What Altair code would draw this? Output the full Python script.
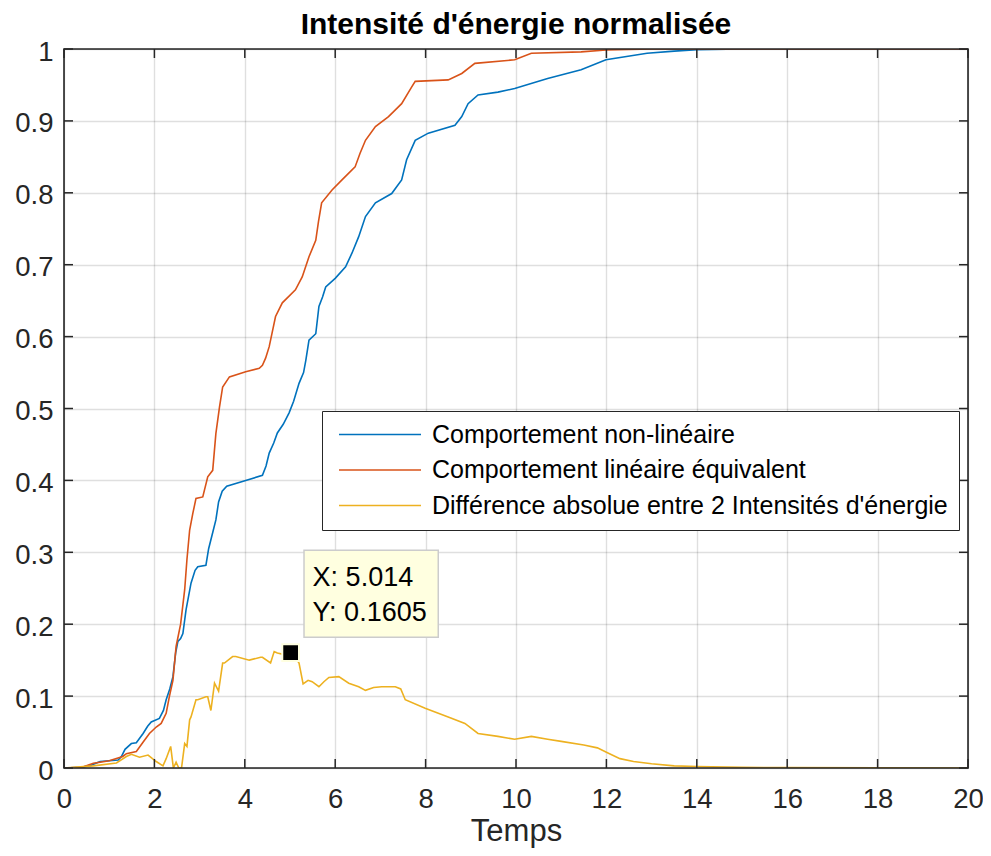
import altair as alt
import pandas as pd

FONT = "Liberation Sans"
TXT = "#262626"

labels = ["Comportement non-linéaire",
          "Comportement linéaire équivalent",
          "Différence absolue entre 2 Intensités d'énergie"]
colors = ["#0072BD", "#D95319", "#EDB120"]

# Comportement non-linéaire
nl_x = [0, 0.4, 0.6, 0.8, 1.0, 1.2, 1.27, 1.35, 1.49, 1.6, 1.75, 1.85, 1.93, 2.11, 2.2, 2.26, 2.34,
        2.41, 2.47, 2.52, 2.58, 2.63, 2.7, 2.81, 2.9, 2.96, 3.14, 3.2, 3.3, 3.36, 3.42, 3.5, 3.6,
        4.02, 4.39, 4.47, 4.54, 4.64, 4.72, 4.85, 4.98, 5.08, 5.2, 5.3, 5.35, 5.42, 5.57, 5.64,
        5.72, 5.79, 6.0, 6.23, 6.37, 6.52, 6.67, 6.89, 7.25, 7.47, 7.58, 7.77, 8.06, 8.65, 8.8,
        8.94, 9.16, 9.6, 9.97, 10.7, 11.44, 11.99, 12.9, 13.5, 14.0, 15.0, 20.0]
nl_y = [0, 0.001, 0.004, 0.009, 0.010, 0.011, 0.016, 0.026, 0.034, 0.035, 0.048, 0.058, 0.064, 0.069,
        0.08, 0.095, 0.11, 0.127, 0.16, 0.176, 0.18, 0.187, 0.22, 0.257, 0.275, 0.28, 0.282, 0.305,
        0.33, 0.345, 0.37, 0.385, 0.392, 0.40, 0.407, 0.42, 0.438, 0.452, 0.466, 0.478, 0.494, 0.51,
        0.535, 0.55, 0.567, 0.595, 0.604, 0.642, 0.655, 0.669, 0.681, 0.697, 0.716, 0.739, 0.767,
        0.786, 0.799, 0.818, 0.846, 0.873, 0.883, 0.894, 0.906, 0.924, 0.936, 0.94, 0.945, 0.959,
        0.971, 0.985, 0.994, 0.997, 0.999, 1.0, 1.0]

# Comportement linéaire équivalent
li_x = [0, 0.4, 0.65, 1.0, 1.3, 1.38, 1.6, 1.74, 1.89, 2.04, 2.15, 2.26, 2.33, 2.41, 2.48, 2.58,
        2.67, 2.72, 2.78, 2.85, 2.92, 3.07, 3.18, 3.29, 3.36, 3.44, 3.51, 3.66, 4.02, 4.32, 4.39,
        4.46, 4.54, 4.68, 4.83, 5.12, 5.27, 5.42, 5.57, 5.63, 5.7, 5.93, 6.15, 6.44, 6.55, 6.67,
        6.89, 7.18, 7.47, 7.69, 7.77, 8.5, 8.8, 9.09, 9.97, 10.34, 11.44, 11.99, 13.0, 20.0]
li_y = [0, 0.001, 0.0065, 0.01, 0.016, 0.02, 0.023, 0.035, 0.048, 0.057, 0.062, 0.076, 0.099, 0.122,
        0.169, 0.2, 0.248, 0.29, 0.331, 0.354, 0.375, 0.377, 0.405, 0.414, 0.465, 0.502, 0.53, 0.544,
        0.551, 0.556, 0.56, 0.57, 0.586, 0.628, 0.647, 0.665, 0.683, 0.711, 0.734, 0.76, 0.786, 0.804,
        0.818, 0.836, 0.855, 0.873, 0.892, 0.906, 0.924, 0.947, 0.955, 0.957, 0.966, 0.98, 0.985,
        0.994, 0.996, 0.9986, 1.0, 1.0]

# Différence absolue
df_x = [0, 0.65, 1.16, 1.38, 1.49, 1.67, 1.86, 2.04, 2.19, 2.26, 2.36, 2.42, 2.48, 2.54, 2.6, 2.67,
        2.72, 2.78, 2.81, 2.92, 2.96, 3.14, 3.18, 3.25, 3.33, 3.42, 3.51, 3.55, 3.73, 3.8, 4.1, 4.35,
        4.39, 4.57, 4.65, 4.72, 4.85, 5.014, 5.1, 5.2, 5.29, 5.4, 5.49, 5.64, 5.75, 5.86, 6.08, 6.3,
        6.52, 6.67, 6.85, 7.03, 7.33, 7.45, 7.55, 7.99, 8.5, 8.87, 9.16, 9.6, 9.97, 10.34, 10.7, 11.0,
        11.5, 11.8, 12.0, 12.3, 12.6, 13.0, 13.5, 14.0, 15.0, 16.0, 20.0]
df_y = [0, 0.003, 0.007, 0.016, 0.019, 0.015, 0.018, 0.009, 0.003, 0.013, 0.03, 0.0, 0.008, 0.0, 0.0,
        0.034, 0.03, 0.067, 0.071, 0.095, 0.095, 0.099, 0.099, 0.08, 0.118, 0.107, 0.146, 0.146, 0.155,
        0.155, 0.15, 0.154, 0.154, 0.146, 0.162, 0.16, 0.158, 0.1605, 0.155, 0.146, 0.117, 0.122,
        0.12, 0.113, 0.12, 0.126, 0.127, 0.118, 0.113, 0.108, 0.112, 0.113, 0.113, 0.11, 0.095, 0.083,
        0.071, 0.062, 0.048, 0.044, 0.04, 0.044, 0.04, 0.037, 0.032, 0.028, 0.022, 0.013, 0.009,
        0.006, 0.003, 0.002, 0.001, 0.0005, 0.0]

x_ticks = [0, 2, 4, 6, 8, 10, 12, 14, 16, 18, 20]
y_ticks = [0, 0.1, 0.2, 0.3, 0.4, 0.5, 0.6, 0.7, 0.8, 0.9, 1]

tip_x, tip_y = 5.014, 0.1605
tip_text = ["X: 5.014", "Y: 0.1605"]

W, H = 904, 719
TICK = 9

rows = []
for lab, xs_, ys_ in [(labels[0], nl_x, nl_y), (labels[1], li_x, li_y), (labels[2], df_x, df_y)]:
    for i, (a, b) in enumerate(zip(xs_, ys_)):
        rows.append({"serie": lab, "t": a, "v": b, "o": i})
lines_df = pd.DataFrame(rows)

xs = alt.Scale(domain=[0, 20], nice=False, zero=False)
ys = alt.Scale(domain=[0, 1], nice=False, zero=False)

AX = alt.Axis(
    values=x_ticks, format="d", title="Temps", ticks=False, domain=False, grid=True,
    gridColor=TXT, gridOpacity=0.15, gridWidth=1.4, labelFlush=False, labelOverlap=False,
    labelFont=FONT, labelFontSize=27.5, labelColor=TXT, labelPadding=17,
    titleFont=FONT, titleFontSize=31, titleFontWeight="normal", titleColor=TXT, titlePadding=4)
AY = alt.Axis(
    values=y_ticks, format="~g", title=None, ticks=False, domain=False, grid=True,
    gridColor=TXT, gridOpacity=0.15, gridWidth=1.4, labelFlush=False, labelOverlap=False,
    labelFont=FONT, labelFontSize=27.5, labelColor=TXT, labelPadding=11, labelOffset=3)


def X(f):
    return alt.X(f, scale=xs, axis=AX)


def Y(f):
    return alt.Y(f, scale=ys, axis=AY)


lines = alt.Chart(lines_df).mark_line(strokeWidth=1.6, clip=True).encode(
    x=X("t:Q"), y=Y("v:Q"),
    order="o:Q",
    color=alt.Color("serie:N", sort=labels,
                    scale=alt.Scale(domain=labels, range=colors),
                    legend=alt.Legend(
                        title=None, orient="none", legendX=258, legendY=362,
                        direction="vertical", padding=11, symbolOffset=5,
                        strokeColor=TXT, fillColor="white", cornerRadius=0,
                        symbolType="stroke", symbolSize=6724, symbolStrokeWidth=1.6,
                        clipHeight=25, rowPadding=9.5,
                        labelFont=FONT, labelFontSize=25, labelColor="black",
                        labelLimit=0, labelOffset=10)),
)

# inward ticks and frame
xt = pd.DataFrame({"t": x_ticks})
yt = pd.DataFrame({"v": y_ticks})
tick_b = alt.Chart(xt).mark_rule(color=TXT, strokeWidth=1.5).encode(x=X("t:Q"), y=alt.value(H), y2=alt.value(H - TICK))
tick_t = alt.Chart(xt).mark_rule(color=TXT, strokeWidth=1.5).encode(x=X("t:Q"), y=alt.value(0), y2=alt.value(TICK))
tick_l = alt.Chart(yt).mark_rule(color=TXT, strokeWidth=1.5).encode(y=Y("v:Q"), x=alt.value(0), x2=alt.value(TICK))
tick_r = alt.Chart(yt).mark_rule(color=TXT, strokeWidth=1.5).encode(y=Y("v:Q"), x=alt.value(W), x2=alt.value(W - TICK))

frame_df = pd.DataFrame({"t": [0, 20], "v": [0, 1]})
frame = alt.Chart(frame_df).mark_rect(fill=None, stroke=TXT, strokeWidth=1.6).encode(
    x=X("min(t):Q"), x2="max(t):Q", y=Y("min(v):Q"), y2="max(v):Q")

# data tip
box_df = pd.DataFrame({"t": [5.31], "t2": [8.28], "v": [0.182], "v2": [0.303]})
box = alt.Chart(box_df).mark_rect(fill="#FFFFE0", stroke="#CCCCCC", strokeWidth=1.5).encode(
    x=X("t:Q"), x2="t2:Q", y=Y("v:Q"), y2="v2:Q")
tip_df = pd.DataFrame({"t": [5.5, 5.5], "v": [0.253, 0.204], "s": tip_text})
tip = alt.Chart(tip_df).mark_text(align="left", baseline="alphabetic", font=FONT, fontSize=27,
                                  color="black").encode(x=X("t:Q"), y=Y("v:Q"), text="s:N")
pt_df = pd.DataFrame({"t": [tip_x], "v": [tip_y]})
pt = alt.Chart(pt_df).mark_point(shape="square", filled=True, fill="black", size=280,
                                 stroke="#FFFFE0", strokeWidth=2, opacity=1).encode(
    x=X("t:Q"), y=Y("v:Q"))

chart = alt.layer(lines, frame, tick_b, tick_t, tick_l, tick_r, box, tip, pt).properties(
    width=W, height=H,
    title=alt.TitleParams("Intensité d'énergie normalisée", font=FONT, fontSize=30,
                          fontWeight="bold", color="black", anchor="middle", offset=10,
                          dy=12, frame="group"),
    autosize=alt.AutoSizeParams(type="none"),
    padding={"left": 56, "top": 41, "right": 15, "bottom": 80},
).configure_view(stroke=None).configure(background="white")

chart.save("out.html", embed_options={"renderer": "svg", "actions": False})
